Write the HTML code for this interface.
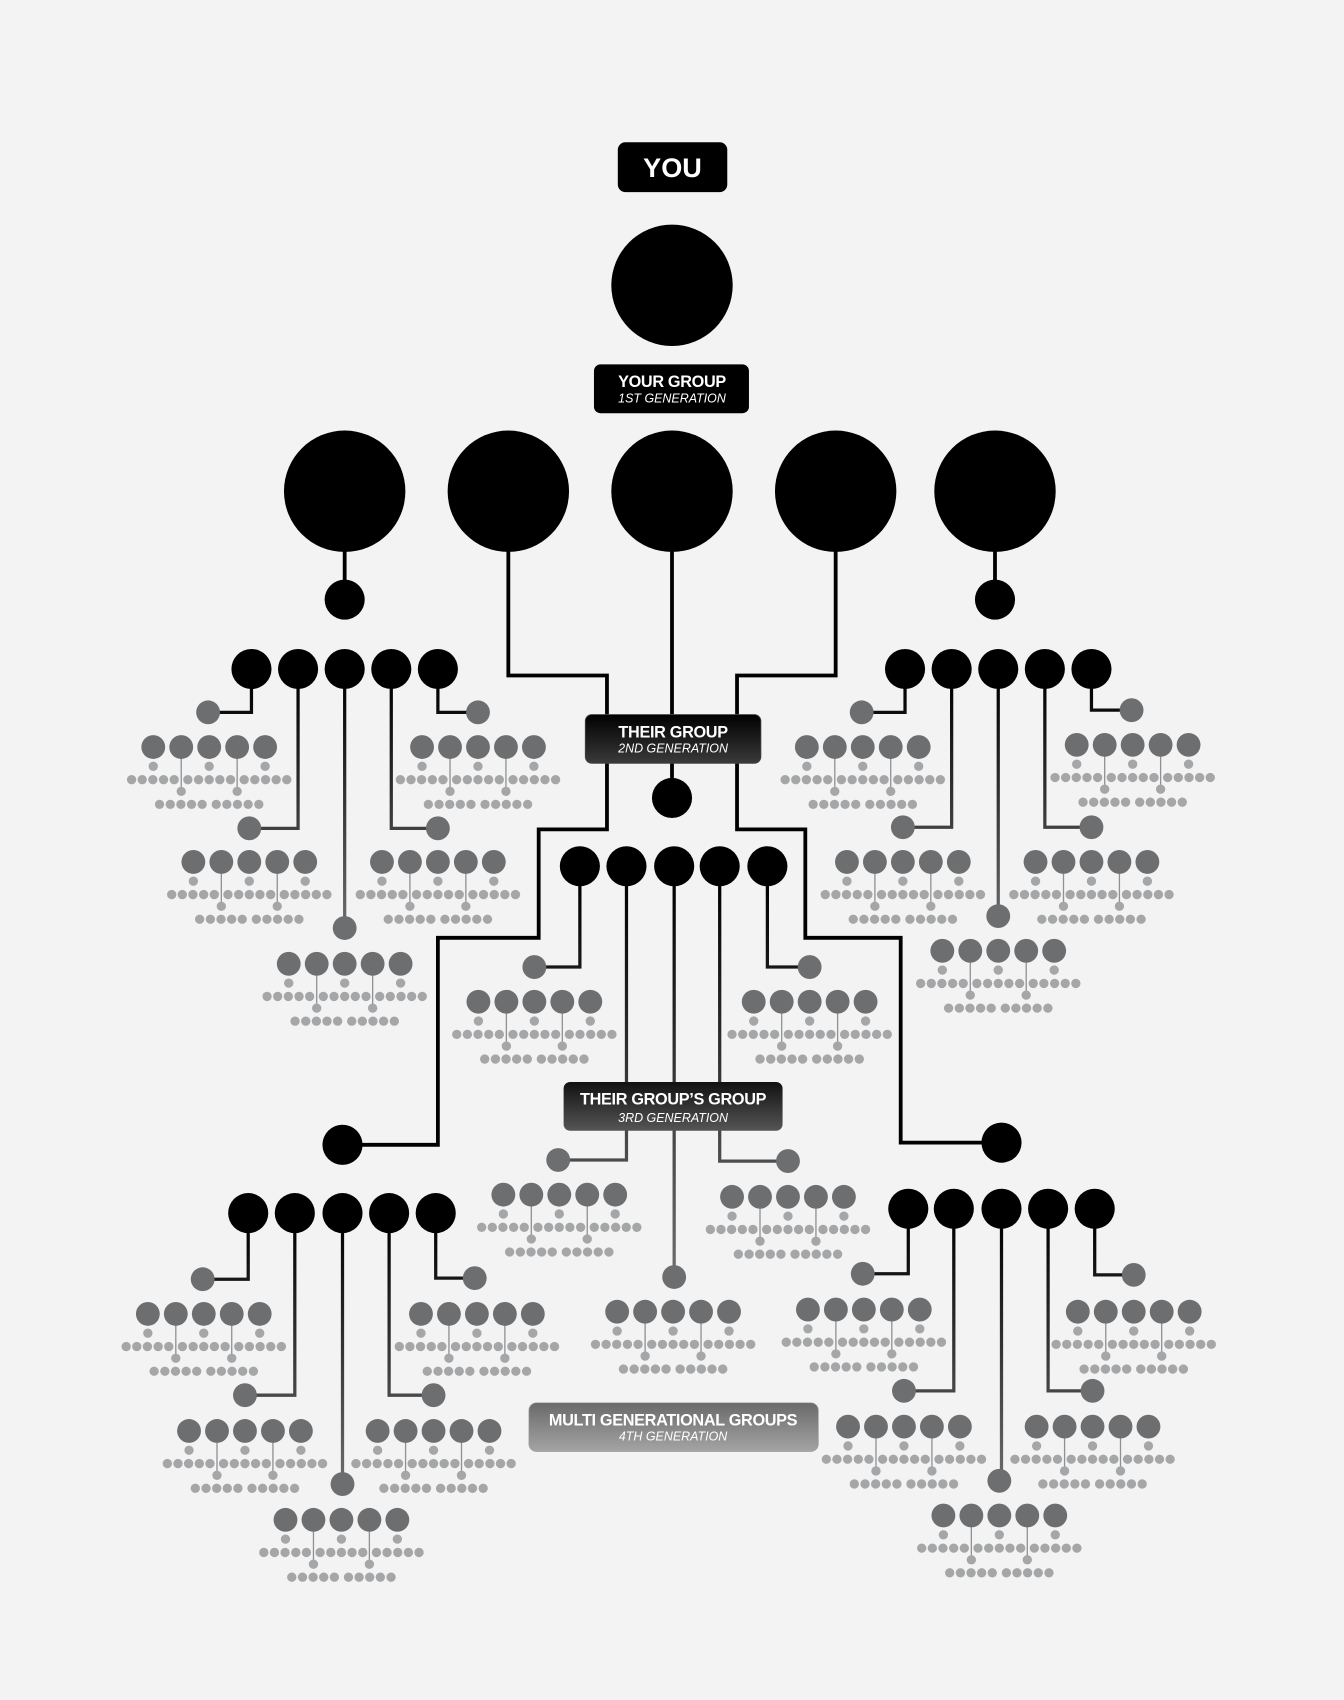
<!DOCTYPE html>
<html><head><meta charset="utf-8">
<style>
html,body{margin:0;padding:0;background:#f3f3f3;}
svg{display:block;}
text{font-family:"Liberation Sans",sans-serif;fill:#fff;text-anchor:middle;}
.t{font-weight:bold;font-size:15px;letter-spacing:-0.3px;}
.s{font-style:italic;font-size:11.5px;}
</style></head>
<body>
<svg width="1344" height="1700" viewBox="0 0 1240 1568" xmlns="http://www.w3.org/2000/svg">
<defs>
  <linearGradient id="gA" gradientUnits="userSpaceOnUse" x1="0" y1="630" x2="0" y2="860"><stop offset="0" stop-color="#000"/><stop offset="1" stop-color="#6d6e70"/></linearGradient>
  <linearGradient id="gB" gradientUnits="userSpaceOnUse" x1="0" y1="815" x2="0" y2="1180"><stop offset="0" stop-color="#000"/><stop offset="1" stop-color="#6d6e70"/></linearGradient>
  <linearGradient id="gC" gradientUnits="userSpaceOnUse" x1="0" y1="1130" x2="0" y2="1370"><stop offset="0" stop-color="#000"/><stop offset="1" stop-color="#6d6e70"/></linearGradient>
  <linearGradient id="b2" x1="0" y1="0" x2="0" y2="1"><stop offset="0" stop-color="#000"/><stop offset="1" stop-color="#3a3a3a"/></linearGradient>
  <linearGradient id="b3" x1="0" y1="0" x2="0" y2="1"><stop offset="0" stop-color="#111"/><stop offset="1" stop-color="#555"/></linearGradient>
  <linearGradient id="b4" x1="0" y1="0" x2="0" y2="1"><stop offset="0" stop-color="#6a6a6a"/><stop offset="1" stop-color="#a4a4a4"/></linearGradient>
  <g id="c">
    <g stroke="#8f9092" stroke-width="1.2"><line x1="-25.8" y1="0" x2="-25.8" y2="41"/><line x1="25.8" y1="0" x2="25.8" y2="41"/></g>
    <g fill="#6d6e70"><circle cx="-51.6" r="11"/><circle cx="-25.8" r="11"/><circle cx="0" r="11"/><circle cx="25.8" r="11"/><circle cx="51.6" r="11"/></g>
    <g fill="#a5a6a8">
      <circle cx="-51.6" cy="17.8" r="4.3"/><circle cx="0" cy="17.8" r="4.3"/><circle cx="51.6" cy="17.8" r="4.3"/>
      <circle cx="-71.6" cy="30.1" r="4.3"/><circle cx="-61.8" cy="30.1" r="4.3"/><circle cx="-52" cy="30.1" r="4.3"/><circle cx="-42.1" cy="30.1" r="4.3"/><circle cx="-32.3" cy="30.1" r="4.3"/><circle cx="-19.7" cy="30.1" r="4.3"/><circle cx="-9.8" cy="30.1" r="4.3"/><circle cx="0" cy="30.1" r="4.3"/><circle cx="9.8" cy="30.1" r="4.3"/><circle cx="19.7" cy="30.1" r="4.3"/><circle cx="32.3" cy="30.1" r="4.3"/><circle cx="42.1" cy="30.1" r="4.3"/><circle cx="52" cy="30.1" r="4.3"/><circle cx="61.8" cy="30.1" r="4.3"/><circle cx="71.6" cy="30.1" r="4.3"/>
      <circle cx="-25.8" cy="40.9" r="4.3"/><circle cx="25.8" cy="40.9" r="4.3"/>
      <circle cx="-45.8" cy="52.9" r="4.3"/><circle cx="-35.9" cy="52.9" r="4.3"/><circle cx="-26.1" cy="52.9" r="4.3"/><circle cx="-16.3" cy="52.9" r="4.3"/><circle cx="-6.5" cy="52.9" r="4.3"/><circle cx="6.5" cy="52.9" r="4.3"/><circle cx="16.3" cy="52.9" r="4.3"/><circle cx="26.1" cy="52.9" r="4.3"/><circle cx="35.9" cy="52.9" r="4.3"/><circle cx="45.8" cy="52.9" r="4.3"/>
    </g>
  </g>
</defs>
<rect width="1240" height="1568" fill="#f3f3f3"/>

<!-- main black connectors -->
<g fill="none" stroke="#000" stroke-width="3.5">
  <line x1="318" y1="500" x2="318" y2="553"/>
  <line x1="918" y1="500" x2="918" y2="553"/>
  <polyline points="469,500 469,623 560,623 560,765 497,765 497,865 404,865 404,1056 316,1056"/>
  <polyline points="771,500 771,623 680,623 680,765 743,765 743,865 831,865 831,1054 924,1054"/>
  <line x1="620" y1="500" x2="620" y2="736"/>
</g>

<!-- group connectors with gradient -->
<g fill="none" stroke-width="3">
  <g stroke="url(#gA)">
    <polyline points="232,617 232,657 192,657"/><polyline points="275,617 275,764 230,764"/><line x1="318" y1="617" x2="318" y2="856"/><polyline points="361,617 361,764 404,764"/><polyline points="404,617 404,657 441,657"/>
    <polyline points="835,617 835,657 795,657"/><polyline points="878,617 878,763 833,763"/><line x1="921" y1="617" x2="921" y2="845"/><polyline points="964,617 964,763 1007,763"/><polyline points="1007,617 1007,655 1044,655"/>
  </g>
  <g stroke="url(#gB)">
    <polyline points="535,799 535,892 493,892"/><polyline points="578,799 578,1070 515,1070"/><line x1="622" y1="799" x2="622" y2="1178"/><polyline points="664,799 664,1071 727,1071"/><polyline points="708,799 708,892 747,892"/>
  </g>
  <g stroke="url(#gC)">
    <polyline points="229,1119 229,1180 187,1180"/><polyline points="272,1119 272,1287 226,1287"/><line x1="316" y1="1119" x2="316" y2="1369"/><polyline points="359,1119 359,1287 400,1287"/><polyline points="402,1119 402,1179 438,1179"/>
    <polyline points="838,1115 838,1175 796,1175"/><polyline points="880,1115 880,1283 834,1283"/><line x1="924" y1="1115" x2="924" y2="1366"/><polyline points="967,1115 967,1283 1008,1283"/><polyline points="1010,1115 1010,1176 1046,1176"/>
  </g>
</g>

<!-- big circles -->
<g fill="#000">
  <circle cx="620" cy="263" r="56"/>
  <circle cx="318" cy="453" r="56"/><circle cx="469" cy="453" r="56"/><circle cx="620" cy="453" r="56"/><circle cx="771" cy="453" r="56"/><circle cx="918" cy="453" r="56"/>
  <circle cx="318" cy="553" r="18.5"/><circle cx="918" cy="553" r="18.5"/>
  <circle cx="620" cy="736" r="18.5"/>
  <circle cx="316" cy="1056" r="18.5"/><circle cx="924" cy="1054" r="18.5"/>
  <circle cx="232" cy="617" r="18.5"/><circle cx="275" cy="617" r="18.5"/><circle cx="318" cy="617" r="18.5"/><circle cx="361" cy="617" r="18.5"/><circle cx="404" cy="617" r="18.5"/>
  <circle cx="835" cy="617" r="18.5"/><circle cx="878" cy="617" r="18.5"/><circle cx="921" cy="617" r="18.5"/><circle cx="964" cy="617" r="18.5"/><circle cx="1007" cy="617" r="18.5"/>
  <circle cx="535" cy="799" r="18.5"/><circle cx="578" cy="799" r="18.5"/><circle cx="622" cy="799" r="18.5"/><circle cx="664" cy="799" r="18.5"/><circle cx="708" cy="799" r="18.5"/>
  <circle cx="229" cy="1119" r="18.5"/><circle cx="272" cy="1119" r="18.5"/><circle cx="316" cy="1119" r="18.5"/><circle cx="359" cy="1119" r="18.5"/><circle cx="402" cy="1119" r="18.5"/>
  <circle cx="838" cy="1115" r="18.5"/><circle cx="880" cy="1115" r="18.5"/><circle cx="924" cy="1115" r="18.5"/><circle cx="967" cy="1115" r="18.5"/><circle cx="1010" cy="1115" r="18.5"/>
</g>

<!-- gray nodes -->
<g fill="#6d6e70">
  <circle cx="192" cy="657" r="11"/><circle cx="230" cy="764" r="11"/><circle cx="318" cy="856" r="11"/><circle cx="404" cy="764" r="11"/><circle cx="441" cy="657" r="11"/>
  <circle cx="795" cy="657" r="11"/><circle cx="833" cy="763" r="11"/><circle cx="921" cy="845" r="11"/><circle cx="1007" cy="763" r="11"/><circle cx="1044" cy="655" r="11"/>
  <circle cx="493" cy="892" r="11"/><circle cx="515" cy="1070" r="11"/><circle cx="622" cy="1178" r="11"/><circle cx="727" cy="1071" r="11"/><circle cx="747" cy="892" r="11"/>
  <circle cx="187" cy="1180" r="11"/><circle cx="226" cy="1287" r="11"/><circle cx="316" cy="1369" r="11"/><circle cx="400" cy="1287" r="11"/><circle cx="438" cy="1179" r="11"/>
  <circle cx="796" cy="1175" r="11"/><circle cx="834" cy="1283" r="11"/><circle cx="922" cy="1366" r="11"/><circle cx="1008" cy="1283" r="11"/><circle cx="1046" cy="1176" r="11"/>
</g>

<!-- clusters -->
<use href="#c" x="193" y="689"/><use href="#c" x="441" y="689"/><use href="#c" x="230" y="795"/><use href="#c" x="404" y="795"/><use href="#c" x="318" y="889"/>
<use href="#c" x="796" y="689"/><use href="#c" x="1045" y="687"/><use href="#c" x="833" y="795"/><use href="#c" x="1007" y="795"/><use href="#c" x="921" y="877"/>
<use href="#c" x="493" y="924"/><use href="#c" x="747" y="924"/><use href="#c" x="516" y="1102"/><use href="#c" x="727" y="1104"/><use href="#c" x="621" y="1210"/>
<use href="#c" x="188" y="1212"/><use href="#c" x="440" y="1212"/><use href="#c" x="226" y="1320"/><use href="#c" x="400" y="1320"/><use href="#c" x="315" y="1402"/>
<use href="#c" x="797" y="1208"/><use href="#c" x="1046" y="1210"/><use href="#c" x="834" y="1316"/><use href="#c" x="1008" y="1316"/><use href="#c" x="922" y="1398"/>

<!-- labels -->
<rect x="570" y="131" width="101" height="46" rx="7" fill="#000"/>
<text x="620.5" y="163" style="font-weight:bold;font-size:25px;">YOU</text>

<rect x="548" y="336" width="143" height="45" rx="6" fill="#000"/>
<text class="t" x="620" y="357">YOUR GROUP</text>
<text class="s" x="620" y="371">1ST GENERATION</text>

<rect x="540" y="659" width="162" height="45" rx="6" fill="url(#b2)" stroke="#444" stroke-width="0.8"/>
<text class="t" x="621" y="680">THEIR GROUP</text>
<text class="s" x="621" y="694">2ND GENERATION</text>

<rect x="520" y="998" width="202" height="45" rx="6" fill="url(#b3)"/>
<text class="t" x="621" y="1019">THEIR GROUP’S GROUP</text>
<text class="s" x="621" y="1035">3RD GENERATION</text>

<rect x="488" y="1294" width="267" height="45" rx="7" fill="url(#b4)" stroke="#999" stroke-width="0.6"/>
<text class="t" x="621" y="1315">MULTI GENERATIONAL GROUPS</text>
<text class="s" x="621" y="1329">4TH GENERATION</text>
</svg>
</body></html>
